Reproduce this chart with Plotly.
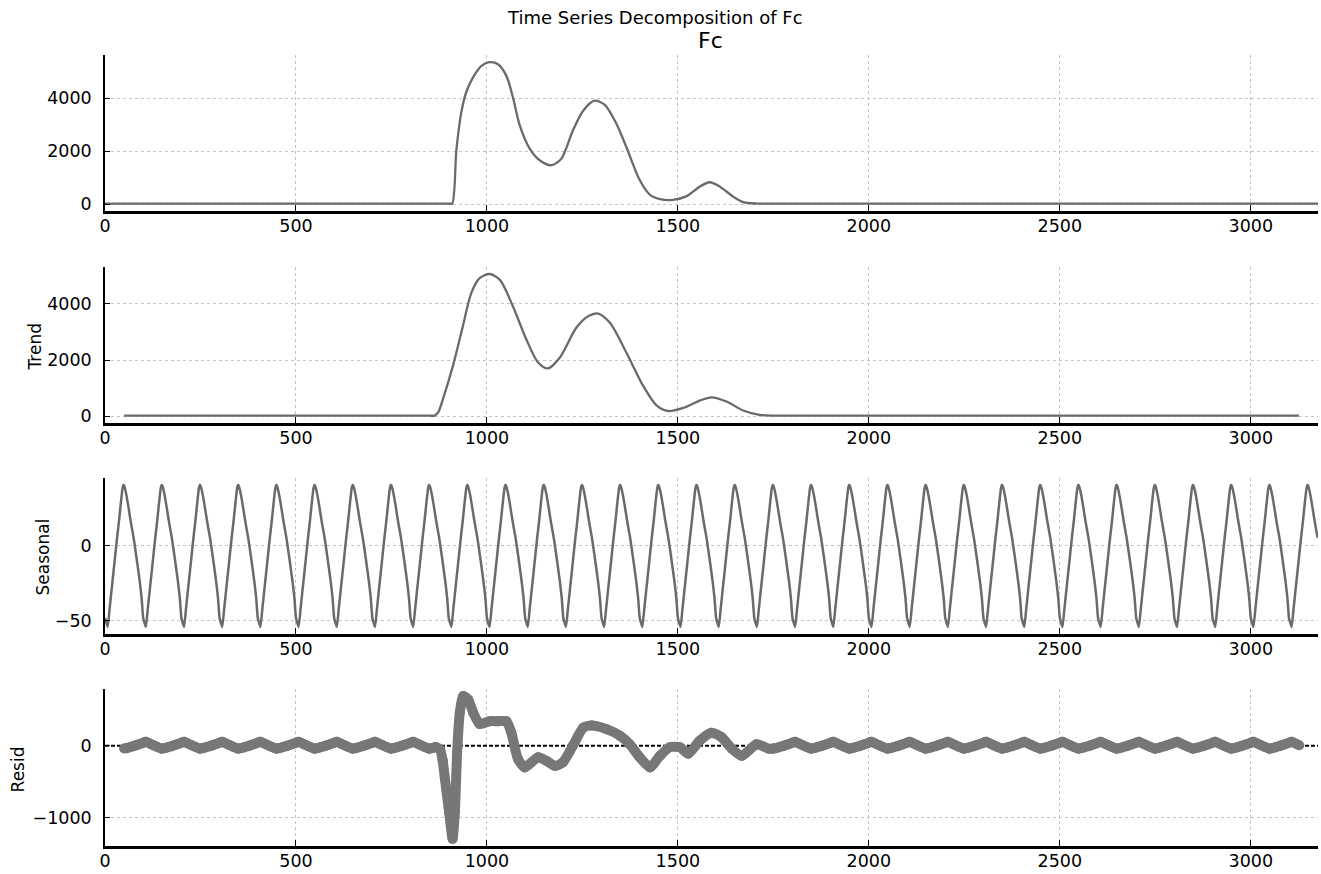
import plotly.graph_objects as go

# ---------------- data ----------------
X_MAX = 3176

obs_x = [0, 900, 909, 920, 933, 946, 964, 985, 1007, 1029, 1051, 1068, 1086, 1112, 1138,
         1169, 1195, 1225, 1252, 1282, 1308, 1339, 1365, 1400, 1427, 1453, 1487,
         1522, 1557, 1583, 1610, 1644, 1671, 1706, 1740, 3176]
obs_y = [20, 20, 20, 2045, 3480, 4240, 4800, 5220, 5370, 5290, 4850, 4040, 2980, 2100, 1660,
         1470, 1720, 2780, 3530, 3910, 3760, 3040, 2160, 910, 350, 190, 160,
         290, 660, 825, 660, 290, 75, 20, 20, 20]

trend_x = [50, 850, 863, 873, 885, 911, 937, 959, 981, 1007, 1034, 1068, 1103, 1134, 1160,
           1191, 1234, 1265, 1291, 1322, 1365, 1409, 1444, 1475, 1514, 1557, 1588,
           1627, 1671, 1714, 1750, 1780, 3126]
trend_y = [15, 15, 15, 150, 614, 1790, 3210, 4390, 4920, 5070, 4860, 3920, 2740, 1910, 1700,
           2090, 3150, 3560, 3660, 3330, 2270, 1080, 380, 180, 290, 550, 670,
           520, 200, 40, 15, 15, 15]

# one seasonal cycle (period 100): offsets within the cycle and values
SEASON_PERIOD = 100
seas_cycle_off = [0, 7, 12, 17, 22, 27, 32, 37, 41, 44, 46, 48, 50, 53, 57, 61, 66, 70, 75, 83, 91, 96]
seas_cycle_val = [-48, -54, -42, -30, -18, -6, 6, 17, 27, 34, 38, 40, 39.5, 37, 32, 26, 18, 12, 5, -9, -24, -35]

# residual cycle in the quiet stretches, and residual values around the event
resid_cycle_off = [0, 7, 17, 27, 37, 48, 50, 57, 66, 75, 83, 91]
resid_cycle_val = [42, 54, 30, 6, -17, -40, -39, -32, -18, -5, 9, 24]
resid_quiet_spans = [(50, 866), (1748, 3127)]

resid_event_x = [877, 884, 890, 901, 910, 916, 922, 929, 938, 951, 964, 981, 1007, 1029,
                 1051, 1064, 1081, 1099, 1134, 1156, 1178, 1199, 1225, 1252, 1274, 1313,
                 1348, 1374, 1400, 1427, 1453, 1479, 1505, 1527, 1557, 1588, 1614, 1641,
                 1667, 1706, 1737]
resid_event_y = [-50, -200, -460, -920, -1290, -920, -90, 460, 690, 640, 460, 300, 340, 340,
                 340, 180, -180, -300, -160, -210, -280, -230, 0, 250, 280, 230,
                 140, 20, -160, -300, -140, -20, -20, -110, 70, 180, 120, -40,
                 -140, 20, -40]

x_ticks = [0, 500, 1000, 1500, 2000, 2500, 3000]
y1_ticks = [0, 2000, 4000]
y2_ticks = [0, 2000, 4000]
y3_ticks = [-50, 0]
y4_ticks = [-1000, 0]

# ---------------- build repeated cycles ----------------
seas_x, seas_y = [], []
for k in range(X_MAX // SEASON_PERIOD + 1):
    for o, v in zip(seas_cycle_off, seas_cycle_val):
        xx = k * SEASON_PERIOD + o
        if xx <= X_MAX:
            seas_x.append(xx)
            seas_y.append(v)


def quiet(lo, hi):
    xs, ys = [], []
    for k in range(X_MAX // SEASON_PERIOD + 1):
        for o, v in zip(resid_cycle_off, resid_cycle_val):
            xx = k * SEASON_PERIOD + o
            if lo <= xx <= hi:
                xs.append(xx)
                ys.append(v)
    return xs, ys


q1x, q1y = quiet(*resid_quiet_spans[0])
q2x, q2y = quiet(*resid_quiet_spans[1])
resid_x = q1x + resid_event_x + q2x
resid_y = q1y + resid_event_y + q2y

# ---------------- layout helpers ----------------
W, H = 1321, 874
L, R, T, B = 105, 3, 55, 24
PW, PH = W - L - R, H - T - B


def px_x(px):
    return (px - L) / PW


def px_y(py):
    return (H - B - py) / PH


panels_px = [(55, 212), (268, 425), (480, 637), (692, 850)]
domains = [[px_y(b), px_y(t)] for t, b in panels_px]

LINE = "#6a6a6a"
FONT = "DejaVu Sans"
GRID = "#c4c4c4"

fig = go.Figure()
fig.add_trace(go.Scatter(x=obs_x, y=obs_y, mode="lines",
                         line=dict(color=LINE, width=2.3, shape="spline", smoothing=0.8),
                         xaxis="x", yaxis="y", showlegend=False))
fig.add_trace(go.Scatter(x=trend_x, y=trend_y, mode="lines",
                         line=dict(color=LINE, width=2.3, shape="spline", smoothing=0.8),
                         xaxis="x2", yaxis="y2", showlegend=False))
fig.add_trace(go.Scatter(x=seas_x, y=seas_y, mode="lines",
                         line=dict(color=LINE, width=2.5, shape="spline", smoothing=0.4),
                         xaxis="x3", yaxis="y3", showlegend=False))
fig.add_trace(go.Scatter(x=[0, X_MAX], y=[0, 0], mode="lines",
                         line=dict(color="#000000", width=2, dash="4px,2px"),
                         xaxis="x4", yaxis="y4", showlegend=False))
fig.add_trace(go.Scatter(x=resid_x, y=resid_y, mode="lines+markers",
                         line=dict(color="#777777", width=10, shape="spline", smoothing=0.6),
                         marker=dict(color="#777777", size=10),
                         xaxis="x4", yaxis="y4", showlegend=False))


def minus(v):
    return str(v).replace("-", "\u2212")


y_ranges = [[-270, 5640], [-253, 5323], [-58.7, 44.7], [-1389, 789]]
y_tickss = [y1_ticks, y2_ticks, y3_ticks, y4_ticks]
TICK_SIZE = 17.5

layout = dict(
    width=W, height=H,
    margin=dict(l=L, r=R, t=T, b=B, pad=0),
    paper_bgcolor="white", plot_bgcolor="white",
    font=dict(family=FONT, color="black", size=16),
    showlegend=False,
)
for i in range(4):
    s = "" if i == 0 else str(i + 1)
    layout["xaxis" + s] = dict(
        domain=[0, 1], anchor="y" + s, range=[0, X_MAX],
        tickvals=x_ticks, ticktext=[str(v) for v in x_ticks],
        ticks="inside", ticklen=6, tickwidth=1.2, tickcolor="black",
        showline=True, linecolor="black", linewidth=2.5,
        showgrid=True, gridcolor=GRID, griddash="dot", gridwidth=1,
        zeroline=False, tickfont=dict(size=TICK_SIZE, family=FONT, color="black"),
        ticklabelstandoff=-3,
    )
    layout["yaxis" + s] = dict(
        domain=domains[i], anchor="x" + s, range=y_ranges[i],
        tickvals=y_tickss[i], ticktext=[minus(v) for v in y_tickss[i]],
        ticks="inside", ticklen=5, tickwidth=1.2, tickcolor="black",
        showline=True, linecolor="black", linewidth=1.5,
        showgrid=True, gridcolor=GRID, griddash="dot", gridwidth=1,
        zeroline=False, tickfont=dict(size=TICK_SIZE, family=FONT, color="black"),
        ticklabelstandoff=8,
    )

annotations = [
    dict(text="Time Series Decomposition of Fc", x=px_x(655), y=px_y(17), size=18),
    dict(text="Fc", x=px_x(710), y=px_y(40), size=22),
    dict(text="Trend", x=px_x(35), y=px_y(348), size=17),
    dict(text="Seasonal", x=px_x(43), y=px_y(560), size=17),
    dict(text="Resid", x=px_x(18), y=px_y(773), size=17),
]
for a in annotations[2:]:
    a["angle"] = -90
layout["annotations"] = [
    dict(text=a["text"], x=a["x"], y=a["y"], xref="paper", yref="paper",
         xanchor="center", yanchor="middle", showarrow=False,
         textangle=a.get("angle", 0),
         font=dict(family=FONT, size=a["size"], color="black"))
    for a in annotations
]

fig.update_layout(**layout)
fig.write_html("out.html")
